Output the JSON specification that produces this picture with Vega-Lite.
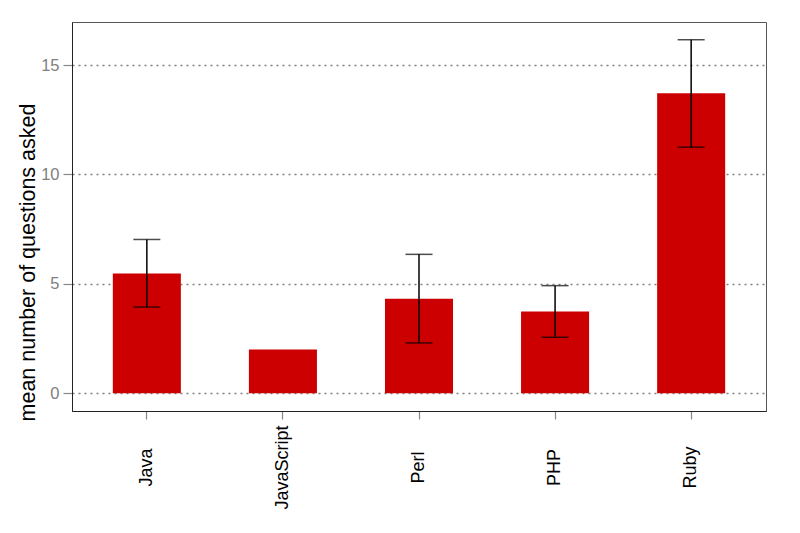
{
  "$schema": "https://vega.github.io/schema/vega-lite/v6.json",
  "autosize": {"type": "none"},
  "width": 694,
  "height": 389,
  "padding": {"left": 72, "top": 22, "right": 34, "bottom": 122},
  "background": "white",
  "config": {
    "font": "Liberation Sans",
    "view": {"stroke": "#555555", "strokeWidth": 1}
  },
  "data": {
    "values": [
      {"language": "Java", "mean": 5.48, "lo": 3.94, "hi": 7.03},
      {"language": "JavaScript", "mean": 2.0, "lo": null, "hi": null},
      {"language": "Perl", "mean": 4.32, "lo": 2.3, "hi": 6.35},
      {"language": "PHP", "mean": 3.74, "lo": 2.56, "hi": 4.92},
      {"language": "Ruby", "mean": 13.71, "lo": 11.25, "hi": 16.16}
    ]
  },
  "encoding": {
    "x": {
      "field": "language",
      "type": "nominal",
      "sort": ["Java", "JavaScript", "Perl", "PHP", "Ruby"],
      "scale": {"paddingInner": 0.5, "paddingOuter": 0.3},
      "axis": {
        "title": null,
        "labelAngle": -90,
        "labelAlign": "center",
        "labelBaseline": "middle",
        "labelFontSize": 18,
        "labelColor": "black",
        "labelPadding": 48,
        "tickSize": 8,
        "tickColor": "#888888",
        "tickWidth": 1.2,
        "domainColor": "#222222",
        "grid": false
      }
    }
  },
  "layer": [
    {
      "mark": {"type": "bar", "color": "#cc0000"},
      "encoding": {
        "y": {
          "field": "mean",
          "type": "quantitative",
          "scale": {"domain": [-0.81, 16.97], "nice": false, "zero": false},
          "axis": {
            "title": "mean number of questions asked",
            "titleFontSize": 21.5,
            "titleFontWeight": "normal",
            "titleColor": "black",
            "titleAngle": -90,
            "titleAlign": "center",
            "titleBaseline": "middle",
            "titleX": -44,
            "titleY": 240,
            "values": [0, 5, 10, 15],
            "labelFontSize": 16.5,
            "labelColor": "#808080",
            "labelPadding": 4,
            "tickSize": 9,
            "tickColor": "#888888",
            "tickWidth": 1.2,
            "domainColor": "#222222",
            "grid": true,
            "gridColor": "#808080",
            "gridDash": [2, 4],
            "gridWidth": 1.4
          }
        }
      }
    },
    {
      "mark": {"type": "rule", "color": "black", "strokeWidth": 1.5},
      "encoding": {
        "y": {"field": "lo", "type": "quantitative"},
        "y2": {"field": "hi"}
      }
    },
    {
      "mark": {"type": "tick", "orient": "horizontal", "color": "black", "size": 27, "thickness": 1.5},
      "encoding": {
        "y": {"field": "lo", "type": "quantitative"}
      }
    },
    {
      "mark": {"type": "tick", "orient": "horizontal", "color": "black", "size": 27, "thickness": 1.5},
      "encoding": {
        "y": {"field": "hi", "type": "quantitative"}
      }
    }
  ]
}
